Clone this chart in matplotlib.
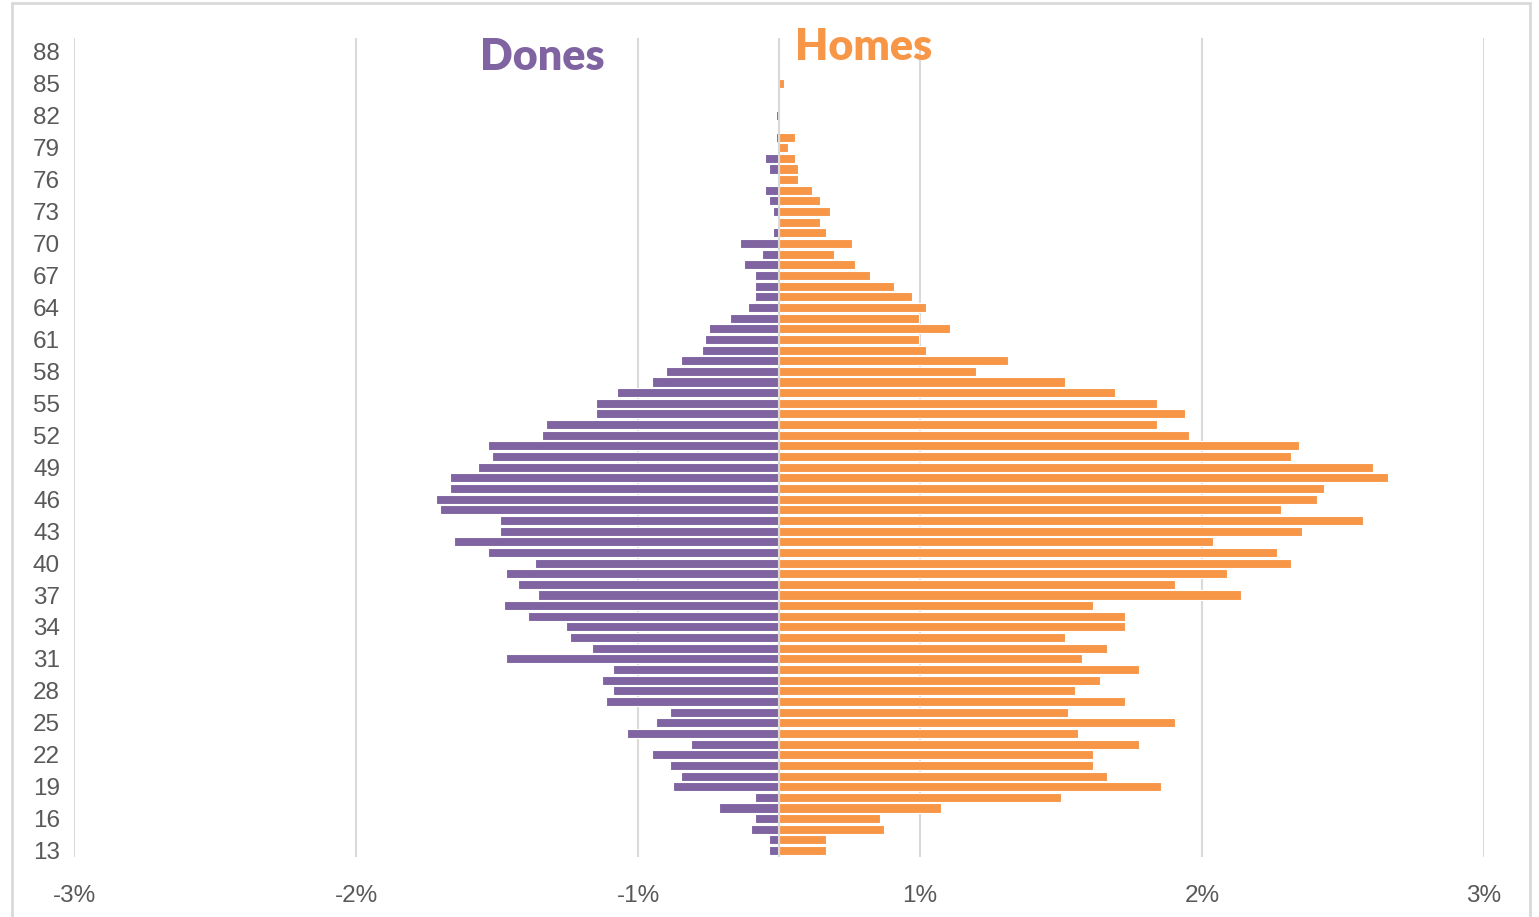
import numpy as np
import matplotlib as mpl
mpl.use("Agg")
from matplotlib import pyplot as plt
from matplotlib.patches import Rectangle

mpl.rcParams.update({'font.family': ['Liberation Sans', 'DejaVu Sans']})

PURPLE = '#8064a2'
ORANGE = '#f79646'
GRID = '#d9d9d9'
TEXT = '#595959'

ages = np.arange(13, 89)

# percentage of population per age, 13..88
dones = [0.036, 0.036, 0.100, 0.086, 0.213, 0.086, 0.377, 0.349, 0.386, 0.449,
         0.313, 0.540, 0.436, 0.386, 0.613, 0.589, 0.626, 0.589, 0.967, 0.663,
         0.741, 0.754, 0.889, 0.976, 0.854, 0.926, 0.967, 0.867, 1.031, 1.153,
         0.990, 0.990, 1.203, 1.217, 1.167, 1.167, 1.067, 1.017, 1.031, 0.840,
         0.826, 0.648, 0.648, 0.576, 0.449, 0.399, 0.349, 0.272, 0.263, 0.249,
         0.172, 0.110, 0.085, 0.085, 0.085, 0.123, 0.059, 0.137, 0.022, 0.0,
         0.022, 0.036, 0.049, 0.008, 0.036, 0.049, 0.0, 0.010, 0.0, 0.010,
         0.0, 0.0, 0.0, 0.0, 0.0, 0.0]
homes = [0.168, 0.168, 0.373, 0.359, 0.573, 0.999, 1.353, 1.163, 1.113, 1.113,
         1.277, 1.062, 1.404, 1.026, 1.226, 1.049, 1.140, 1.277, 1.076, 1.163,
         1.013, 1.226, 1.226, 1.113, 1.640, 1.404, 1.590, 1.817, 1.767, 1.540,
         1.853, 2.071, 1.780, 1.908, 1.931, 2.158, 2.108, 1.817, 1.844, 1.453,
         1.340, 1.440, 1.340, 1.190, 1.013, 0.699, 0.813, 0.522, 0.496, 0.608,
         0.496, 0.522, 0.472, 0.408, 0.322, 0.269, 0.194, 0.258, 0.168, 0.145,
         0.182, 0.145, 0.118, 0.068, 0.068, 0.055, 0.033, 0.055, 0.0, 0.0,
         0.0, 0.0, 0.016, 0.0, 0.0, 0.0]

# Excel-style axis: ticks at half percents, labels rounded away from zero
xticks = [-2.5, -1.5, -0.5, 0.5, 1.5, 2.5]
xlabels = ['-3%', '-2%', '-1%', '1%', '2%', '3%']
yticks = list(range(13, 89, 3))

fig = plt.figure(figsize=(15.39, 9.17), dpi=100)
ax = fig.add_axes([74 / 1539, 1 - 857 / 917, (1484 - 74) / 1539, (857 - 38) / 917])

ax.barh(ages, -np.array(dones), height=0.85, color=PURPLE, edgecolor='white',
        linewidth=0.8, zorder=2)
ax.barh(ages, homes, height=0.85, color=ORANGE, edgecolor='white',
        linewidth=0.8, zorder=2)
ax.axvline(0, color=GRID, lw=1.5, zorder=3)

ax.set_xlim(-2.5, 2.5)
ax.set_ylim(12.4, 89.3)
ax.set_xticks(xticks)
ax.set_xticklabels(xlabels)
ax.set_yticks(yticks)
ax.grid(axis='x', color=GRID, lw=1.5, zorder=0)
ax.set_axisbelow(True)
for s in ax.spines.values():
    s.set_visible(False)
ax.tick_params(axis='both', length=0, labelsize=17.5, labelcolor=TEXT)
ax.tick_params(axis='x', pad=20)
ax.tick_params(axis='y', pad=10)

ax.text(-0.84, 87.5, 'Dones', color=PURPLE, fontsize=31, fontweight='heavy',
        family=['Lato', 'DejaVu Sans'], ha='center', va='center', clip_on=False)
ax.text(0.30, 88.45, 'Homes', color=ORANGE, fontsize=31, fontweight='heavy',
        family=['Lato', 'DejaVu Sans'], ha='center', va='center', clip_on=False)

# light frame around the chart area
fig.add_artist(Rectangle((12 / 1539, -0.01), (1530 - 12) / 1539, 1.01 - 3 / 917,
                         transform=fig.transFigure, fill=False,
                         edgecolor=GRID, lw=2))

fig.savefig('out.png', dpi=100)
